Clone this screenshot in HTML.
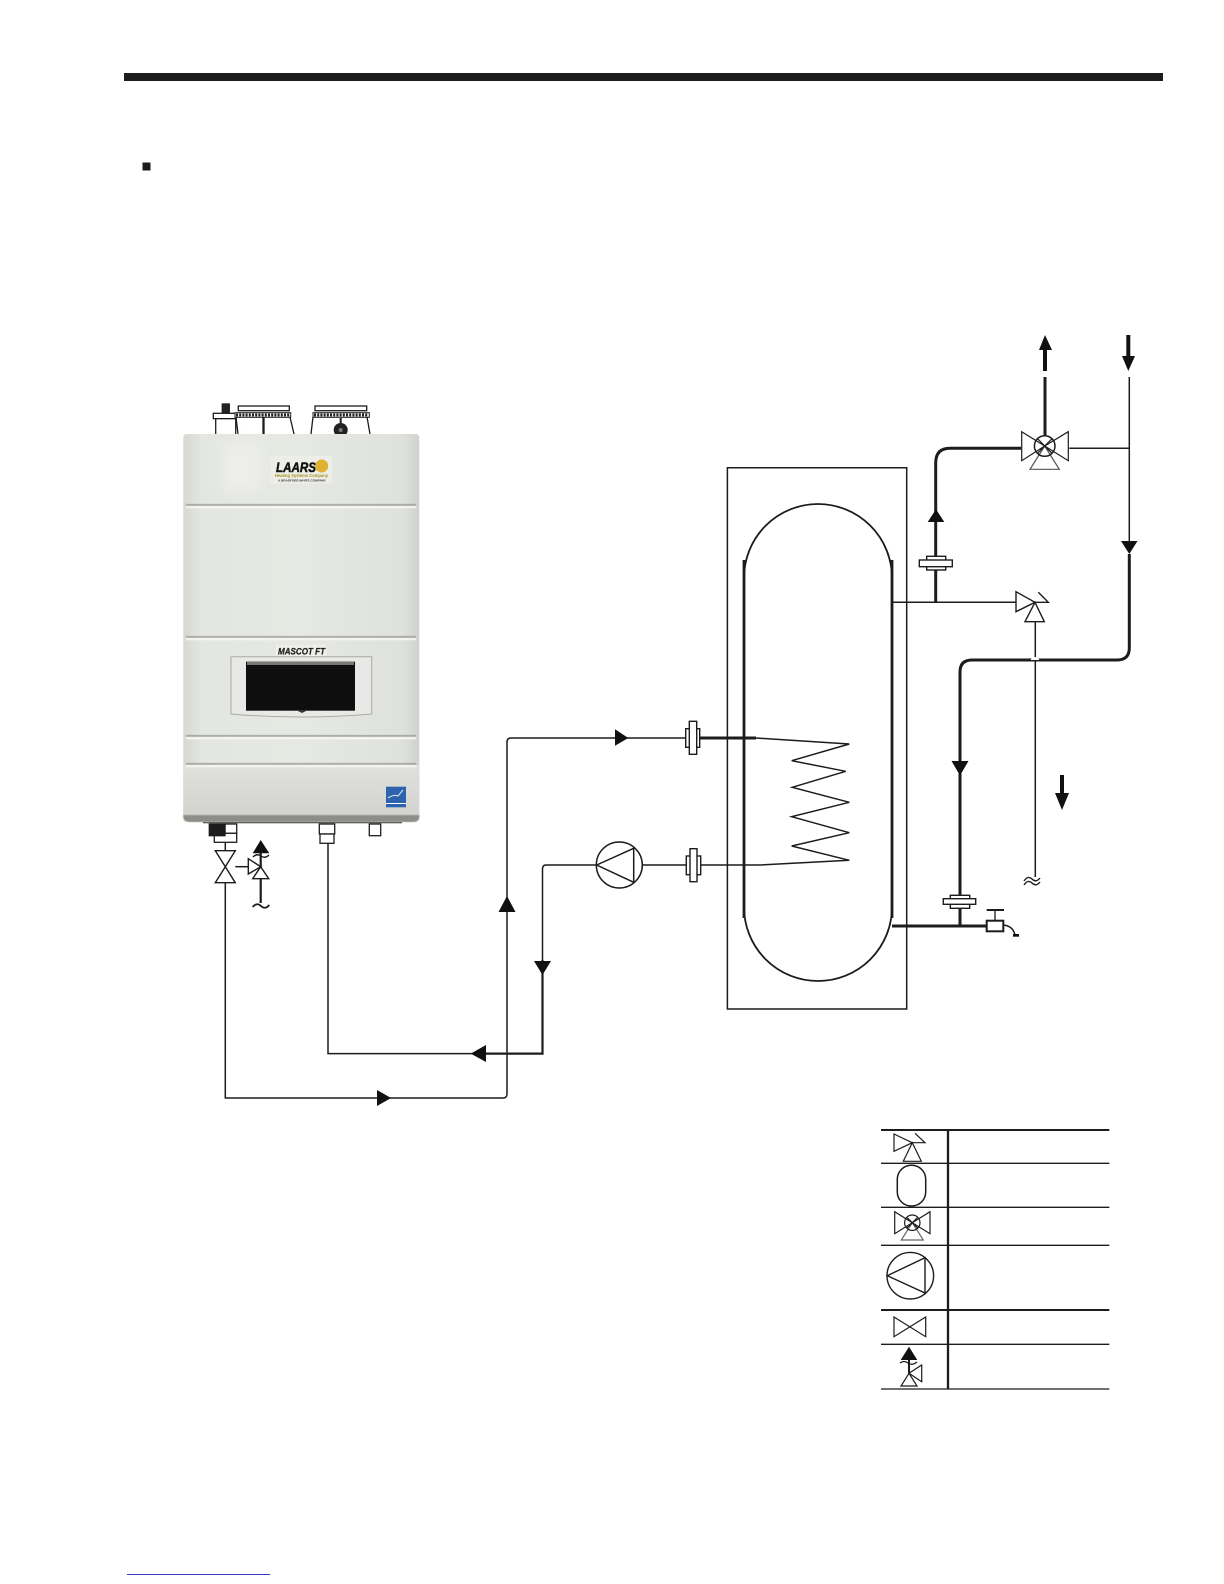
<!DOCTYPE html>
<html>
<head>
<meta charset="utf-8">
<style>
html,body{margin:0;padding:0;background:#fff;width:1224px;height:1584px;overflow:hidden}
svg{display:block}
text{font-family:"Liberation Sans",sans-serif}
</style>
</head>
<body>
<svg width="1224" height="1584" viewBox="0 0 1224 1584" xmlns="http://www.w3.org/2000/svg">
<defs>
<linearGradient id="body" x1="0" y1="0" x2="1" y2="0">
<stop offset="0" stop-color="#d6d8d2"/><stop offset=".08" stop-color="#e4e6e1"/><stop offset=".5" stop-color="#e6e8e3"/><stop offset=".93" stop-color="#dfe1dc"/><stop offset="1" stop-color="#cfd1cc"/>
</linearGradient>
<linearGradient id="low" x1="0" y1="0" x2="0" y2="1">
<stop offset="0" stop-color="#e0e1dc"/><stop offset="1" stop-color="#d2d3ce"/>
</linearGradient>
<filter id="soft" x="-5%" y="-5%" width="110%" height="110%"><feGaussianBlur stdDeviation="0.6"/></filter>
<filter id="softer" x="-30%" y="-30%" width="160%" height="160%"><feGaussianBlur stdDeviation="7"/></filter>
</defs>

<rect width="1224" height="1584" fill="#fff"/>
<!-- header -->
<rect x="124" y="73" width="1039" height="8" fill="#1c1c1c"/>
<rect x="142.500" y="162.500" width="8" height="8" fill="#1c1c1c"/>

<!-- vents -->
<g fill="#fff" stroke="#1c1c1c" stroke-width="1.300">
<rect x="222.300" y="404" width="7" height="9.300" fill="#222"/>
<rect x="213.300" y="413.300" width="22.400" height="5.400"/>
<rect x="215.700" y="418.700" width="20" height="16"/>
<rect x="238.300" y="406" width="51" height="4.700"/>
<path d="M236 417L238 434M290 417L294 434M264 417V434M263 417V434" fill="none"/>
<rect x="315" y="406" width="51.700" height="4.700"/>
<path d="M313 417L311 434M367 417L370 434" fill="none"/>
</g>
<rect x="235" y="412.700" width="55.700" height="4.600" fill="#fff" stroke="#1c1c1c"/>
<rect x="313" y="412.700" width="56.300" height="4.600" fill="#fff" stroke="#1c1c1c"/>
<path d="M236 415H290M314 415H368" stroke="#1c1c1c" stroke-width="3" stroke-dasharray="2 1.200"/>
<circle cx="340.700" cy="430" r="7" fill="#222"/>
<path d="M340.700 418V426" stroke="#222" stroke-width="2"/>
<circle cx="340.700" cy="430" r="2" fill="#777"/>

<!-- boiler -->
<path d="M187 434H415Q419.300 434 419.300 438V816Q419.300 822 413 822H190Q183.300 822 183.300 816V438Q183.300 434 187 434Z" fill="url(#body)"/>
<rect x="183.300" y="765" width="236" height="50" fill="url(#low)"/>
<path d="M183.300 815H419.300V817Q419.300 822 413 822H190Q183.300 822 183.300 817Z" fill="#8d8d89" filter="url(#soft)"/>
<rect x="222" y="442" width="40" height="50" fill="#f2f3f0" opacity=".6" filter="url(#softer)"/>
<g stroke-width="1.300" fill="none" filter="url(#soft)">
<path d="M186 505H416M186 637H416M186 736H416M186 764H416" stroke="#7d7f7a"/>
<path d="M186 507H416M186 639H416M186 738H416M186 766H416" stroke="#fbfbfa" stroke-width="2"/>
</g>
<!-- logo -->
<rect x="270" y="456" width="62.300" height="27.300" fill="#eeeee8"/>
<text x="276" y="472" font-size="13.500" font-weight="700" font-style="italic" fill="#111" stroke="#111" stroke-width=".5" textLength="40" lengthAdjust="spacingAndGlyphs">LAARS</text>
<circle cx="321.700" cy="466" r="6.500" fill="#e0b030"/>
<text x="275" y="476.800" font-size="4.500" font-weight="700" fill="#a89020" textLength="53" lengthAdjust="spacingAndGlyphs">Heating Systems Company</text>
<text x="278" y="481.300" font-size="2.800" font-weight="700" fill="#333" textLength="48" lengthAdjust="spacingAndGlyphs">A BRADFORD WHITE COMPANY</text>
<!-- model -->
<rect x="276" y="645" width="50.700" height="11" fill="#eeeeea"/>
<text x="278" y="654.500" font-size="9.500" font-weight="700" font-style="italic" fill="#222" stroke="#222" stroke-width=".25" textLength="47" lengthAdjust="spacingAndGlyphs">MASCOT FT</text>
<!-- window -->
<path d="M231 656.700H371.700V714Q300 720 231 714Z" fill="#e8e9e6" stroke="#a8aaa6"/>
<rect x="246" y="661.700" width="109" height="49" fill="#0e0e0e"/>
<rect x="247" y="662" width="107" height="3" fill="#777"/>
<path d="M296 710L302 713L308 710Z" fill="#333"/>
<!-- energy star -->
<rect x="386" y="786.700" width="20" height="20.600" fill="#2d63ae"/>
<rect x="386" y="803" width="20" height="1" fill="#fff"/>
<path d="M388 798Q394 794 398 796L403 790" stroke="#dfe8f4" stroke-width="1" fill="none"/>
<path d="M203 822.700H402" stroke="#333" stroke-width="1"/>

<!-- boiler bottom fittings -->
<g fill="#fff" stroke="#1c1c1c" stroke-width="1.300">
<rect x="225" y="824" width="11.700" height="9.300"/>
<rect x="214.300" y="833.300" width="22.400" height="9"/>
<rect x="209.300" y="824" width="15.700" height="11.700" fill="#1c1c1c"/>
<rect x="319.300" y="824" width="15.400" height="10"/>
<rect x="320" y="834" width="14" height="9.300"/>
<rect x="369.300" y="824" width="11.400" height="11.700"/>
</g>

<!-- thin piping -->
<g fill="none" stroke="#1c1c1c" stroke-width="1.500">
<path d="M225.300 842.300V850.700M225.300 882.700V1098H503Q507 1098 507 1094V742Q507 738 511 738H686"/>
<path d="M328 843.300V1053.600H542.500V869Q542.500 865 546 865H596.700"/>
<path d="M642.700 865H686.300M700.700 865H760L849.300 860.300L791.700 846L849.300 832.700L791.700 816.700L849.300 802.300L792.300 787.300L845.700 771.300L791.700 760.700L849.300 744L756 738"/>
<path d="M892 602.300H1016"/>
<path d="M1035.300 621.700V877"/>
<path d="M1069.300 448.300H1129.300M1129.300 377V541"/>
<path d="M235.300 866.700H248.300"/>
<path d="M727.400 467.700H906.700V1009H727.400Z"/>
</g>
<!-- heavy piping -->
<g fill="none" stroke="#1c1c1c" stroke-width="3">
<path d="M700 738H756" />
<path d="M542.500 960V1053.600H480" stroke-width="2.200"/>
<path d="M1045 377V436" />
<path d="M1021 448.300H950Q935.700 448.300 935.700 463V602"/>
<path d="M1129.300 554V648Q1129.300 660 1117 660H972Q960 660 960 672V926"/>
<path d="M892 926H987"/>
<path d="M744 560V918M892 560V918" stroke-width="2.800"/>
<path d="M744 578V578A74 74 0 0 1 892 578M744 907A74 74 0 0 0 892 907" stroke-width="1.800"/>
</g>
<path d="M1031 660Q1035 655 1039 660" fill="#fff" stroke="#fff" stroke-width="1"/>

<!-- arrowheads -->
<g fill="#111">
<path d="M615 729.300V745.700L628.300 738Z"/>
<path d="M507 896L515.500 912H498.500Z"/>
<path d="M542.500 975L534 961H551Z"/>
<path d="M470.700 1053.600L486 1045V1062Z"/>
<path d="M391 1098L377 1090V1106Z"/>
<path d="M936 509.300L944.300 522H927.700Z"/>
<path d="M1129.300 554L1121 541H1137.500Z"/>
<path d="M960 775.500L951.500 761H968.500Z"/>
<path d="M1045 335L1052 350H1039Z"/>
<rect x="1043" y="349" width="4" height="22"/>
<rect x="1126.300" y="335" width="4" height="22"/>
<path d="M1122 356H1135L1128.300 371Z"/>
<rect x="1060" y="775" width="4" height="19"/>
<path d="M1055 793H1069L1062 810Z"/>
</g>

<!-- flanges -->
<g fill="#fff" stroke="#1c1c1c" stroke-width="1.400">
<rect x="685.700" y="728.700" width="14" height="18.600"/>
<rect x="689.300" y="721.300" width="7.400" height="33"/>
<rect x="686.300" y="856" width="14.400" height="18.700"/>
<rect x="690" y="848.700" width="7" height="33"/>
<rect x="926.700" y="556.300" width="19" height="13.700"/>
<rect x="919.300" y="560" width="33" height="6.700"/>
<rect x="950.300" y="895.300" width="19.400" height="13"/>
<rect x="943.300" y="898.700" width="32.400" height="5.600"/>
</g>

<!-- pump -->
<g fill="#fff" stroke="#1c1c1c" stroke-width="1.500">
<circle cx="619.300" cy="865" r="23"/>
<path d="M596.700 865L633.700 848.300V882.300Z"/>
</g>

<!-- mixing valve -->
<g fill="#fff" stroke="#1c1c1c" stroke-width="1.200">
<path d="M1021.700 431.700L1044.700 446L1021.700 460.700Z"/>
<path d="M1068.300 431.700L1044.700 446L1068.300 460.700Z"/>
<path d="M1044.700 446L1030 469.300H1059.300Z" stroke="#555"/>
<circle cx="1044.700" cy="446" r="10.300" fill="none" stroke-width="1.500"/>
<path d="M1037.500 438.700L1052 453.300M1052 438.700L1037.500 453.300" fill="none"/>
</g>

<!-- relief valve tank -->
<g fill="#fff" stroke="#1c1c1c" stroke-width="1.400">
<path d="M1016 591.700L1035 602.300L1016 611.700Z"/>
<path d="M1035 602.300L1025 621.700H1044.300Z"/>
<path d="M1035 602.300H1048.300L1038.300 592.300" fill="none"/>
<path d="M1024 881Q1028 875 1032 879Q1036 883 1040 878M1024 885Q1028 879 1032 883Q1036 887 1040 882" fill="none"/>
</g>

<!-- drain -->
<g fill="#fff" stroke="#1c1c1c">
<rect x="986.700" y="920.700" width="16.600" height="10.600" stroke-width="2"/>
<path d="M995 910V920.700" fill="none" stroke-width="1.300"/>
<path d="M986.700 910H1004" fill="none" stroke-width="2"/>
<path d="M1003.300 925Q1013 926 1015 935" fill="none" stroke-width="1.500"/>
</g>
<rect x="1013" y="934" width="6" height="2.700" fill="#111"/>

<!-- valve + relief by boiler -->
<g fill="#fff" stroke="#1c1c1c" stroke-width="1.400">
<path d="M215.300 850.700H235.300L215.300 882.700H235.300Z"/>
<path d="M260.700 853V879M260.700 878V903" fill="none" stroke-width="2.200"/>
<path d="M248.300 858.700L260.700 866.700L248.300 874Z"/>
<path d="M260.700 866.700L252.700 878.700H268.700Z"/>
<path d="M253 857Q257 853 261 856Q265 859 269 855" fill="none"/>
<path d="M252.700 907Q257 902 261 906Q265 910 269.300 905" fill="none" stroke-width="1.800"/>
</g>
<path d="M260.700 840L269.300 853.300H252.700Z" fill="#111"/>

<!-- legend -->
<g fill="none" stroke="#1c1c1c">
<path d="M881 1130H1109.300M881 1310H1109.300" stroke-width="2"/>
<path d="M881 1163.300H1109.300M881 1207.300H1109.300M881 1245.300H1109.300M881 1344.300H1109.300M881 1389H1109.300" stroke-width="1.300"/>
<path d="M948 1130V1389" stroke-width="2.300"/>
</g>
<g fill="#fff" stroke="#1c1c1c" stroke-width="1.200">
<path d="M894 1134L912.300 1142.700L894 1151.300Z"/>
<path d="M912.300 1142.700L903.300 1161.300H921.300Z"/>
<path d="M912.300 1142.700H925L915 1133.300" fill="none"/>
<rect x="897.300" y="1165.300" width="28.400" height="40.700" rx="14" ry="14" stroke-width="1.500"/>
<path d="M912.300 1222.700L894.700 1211.700V1233.700Z"/>
<path d="M912.300 1222.700L930 1211.700V1233.700Z"/>
<path d="M912.300 1222.700L901.300 1240H923.300Z" stroke="#666"/>
<circle cx="912.300" cy="1222.700" r="7.700" fill="none"/>
<path d="M907 1217.400L917.600 1228M917.600 1217.400L907 1228" fill="none"/>
<circle cx="910.300" cy="1275.700" r="23.300" stroke-width="1.400"/>
<path d="M887.300 1275.700L925 1257.700V1293Z" stroke-width="1.400"/>
<path d="M894 1317L925.700 1336.700V1317L894 1336.700Z"/>
<path d="M909 1360V1373.300" fill="none" stroke-width="2"/>
<path d="M909 1373.300L921.700 1365V1381.700Z"/>
<path d="M909 1373.300L901 1386H917Z"/>
<path d="M900 1363Q904 1360 908 1363Q912 1366 917 1362" fill="none"/>
</g>
<path d="M909 1346.700L917.300 1360H900.700Z" fill="#111"/>

<!-- footer link -->
<path d="M127 1574.500H270" stroke="#3b3bc8" stroke-width="1"/>
</svg>
</body>
</html>
